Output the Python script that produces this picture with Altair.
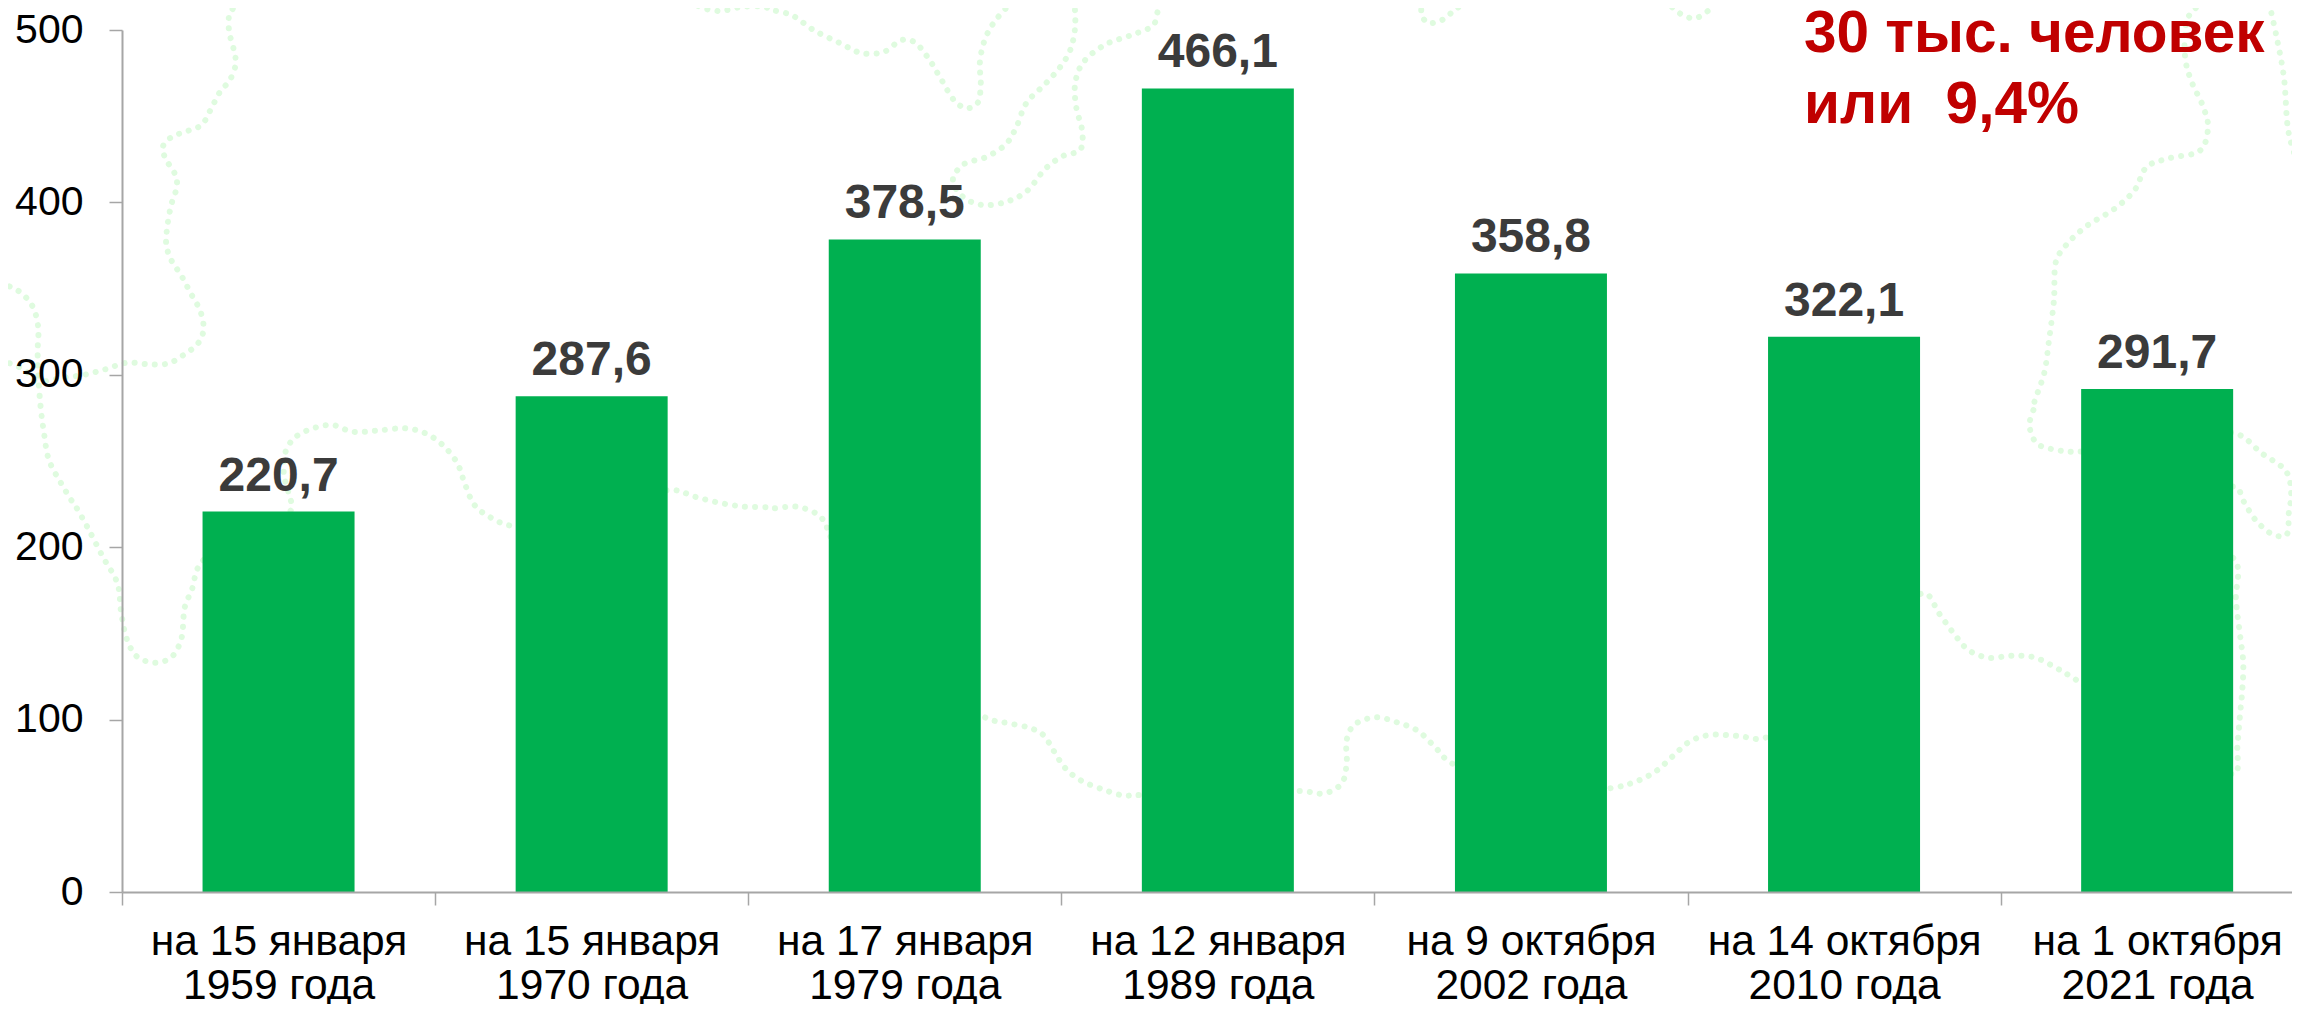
import altair as alt
import pandas as pd

categories = ["на 15 января|1959 года", "на 15 января|1970 года", "на 17 января|1979 года",
              "на 12 января|1989 года", "на 9 октября|2002 года", "на 14 октября|2010 года",
              "на 1 октября|2021 года"]
values = [220.7, 287.6, 378.5, 466.1, 358.8, 322.1, 291.7]
labels = ["220,7", "287,6", "378,5", "466,1", "358,8", "322,1", "291,7"]
y_ticks = [0, 100, 200, 300, 400, 500]
note_lines = ["30 тыс. человек", "или\u00a0\u00a09,4%"]

# Faint dotted map outline behind the bars
# (each piece is read in crop units, with that crop's left and top offset).
SX = 1568 / 767
outline_1 = [(0, 0, [(490, 5), (470, 40), (468, 90), (478, 150), (482, 190), (470, 240), (450, 275), (432, 325),
                     (412, 375), (385, 392), (350, 412), (333, 440), (338, 475), (357, 520), (362, 555), (350, 615),
                     (342, 680), (340, 735), (350, 780), (370, 825), (390, 880), (410, 935), (416, 990), (405, 1030),
                     (375, 1065), (345, 1090), (305, 1093), (260, 1088), (215, 1108), (170, 1125), (120, 1135), (78, 1150)])]
outline_2 = [(0, 0, [(0, 850), (35, 870), (65, 915), (78, 980), (77, 1050), (78, 1120), (83, 1220), (90, 1300), (100, 1380),
                     (125, 1450), (150, 1510)]),
             (0, 400, [(155, 320), (180, 385), (210, 470), (240, 550), (248, 640), (260, 720), (280, 770), (318, 788),
                       (350, 772), (370, 720), (378, 620), (392, 570), (410, 490), (500, 400), (595, 330), (590, 280),
                       (580, 220), (585, 150), (605, 110), (640, 85), (680, 75), (720, 95), (770, 92), (830, 85), (870, 100),
                       (905, 135), (935, 190), (950, 250), (970, 315), (1000, 350), (1050, 378), (1200, 330), (1375, 270),
                       (1420, 290), (1470, 308), (1520, 320), (1568, 322)]),
             (767, 400, [(10, 325), (60, 320), (100, 340), (120, 370), (125, 395), (300, 800), (450, 955), (495, 970),
                         (540, 985), (565, 1005), (585, 1050), (610, 1105), (640, 1140), (690, 1170), (730, 1187),
                         (755, 1185), (920, 1200), (1090, 1173), (1140, 1180), (1175, 1150), (1185, 1090), (1185, 1020),
                         (1200, 975), (1245, 952), (1290, 968), (1330, 992), (1365, 1040), (1400, 1090)]),
             (1533, 400, [(70, 1170), (165, 1163), (210, 1145), (250, 1115), (285, 1070), (320, 1025), (360, 1005),
                          (420, 1008), (475, 1013), (640, 800), (800, 580), (830, 640), (860, 700), (890, 750), (930, 773),
                          (980, 767), (1025, 772), (1065, 800), (1100, 830), (1280, 1000), (1435, 1120), (1440, 1040),
                          (1445, 950), (1450, 870), (1452, 790), (1445, 700), (1437, 600), (1435, 480), (1300, 400),
                          (1435, 260), (1455, 310), (1480, 365), (1515, 405), (1540, 405), (1545, 340), (1550, 280),
                          (1540, 215), (1490, 160), (1435, 100), (1280, 130), (1115, 155), (1070, 150), (1030, 130),
                          (1015, 75), (1027, 10)]),
             (1533, 0, [(1025, 1210), (1045, 1120), (1055, 1020), (1065, 900), (1070, 780), (1090, 735), (1130, 680),
                        (1190, 625), (1230, 570), (1255, 500), (1300, 475), (1365, 450), (1380, 380), (1370, 320),
                        (1345, 240), (1333, 170), (1340, 50), (1375, 5), (1420, -15)])]
outline_3 = [(0, 0, [(0, 1080), (20, 1090), (50, 1110), (75, 1150)])]
outline_4 = [(0, 0, [(1410, 0), (1430, 20), (1470, 33), (1520, 20), (1568, 22)]),
             (767, 0, [(0, 25), (50, 45), (95, 90), (150, 130), (195, 160), (240, 155), (275, 120), (300, 125), (330, 175),
                       (355, 235), (385, 305), (408, 325), (430, 310), (437, 250), (435, 190), (445, 120), (465, 65), (505, 0)])]
outline_5 = [(767, 0, [(628, 0), (630, 80), (620, 150), (600, 200), (570, 250), (530, 310), (510, 380), (490, 430), (450, 470),
                       (400, 495), (380, 540), (400, 590), (440, 615), (490, 605), (530, 575), (570, 505), (605, 468),
                       (640, 450), (645, 400), (632, 320), (630, 250), (645, 190), (690, 135), (745, 105), (790, 75),
                       (800, 30), (815, 0)])]
outline_6 = [(767, 0, [(1340, 0), (1338, 40), (1350, 68), (1380, 60), (1410, 25), (1440, 0)])]
outline_7 = [(1533, 0, [(270, 0), (300, 40), (330, 55), (360, 30), (378, 0)])]
outline_8 = [(1533, 0, [(1505, 10), (1520, 110), (1535, 230), (1545, 400), (1568, 510)])]
outlines = [outline_1, outline_2, outline_3, outline_4, outline_5, outline_6, outline_7, outline_8]

rows = []
for n, outline in enumerate(outlines):
    i = 0
    for xo, yo, pts in outline:
        for px, py in pts:
            rows.append({"path": n, "i": i, "px": xo + px / SX, "py": yo + py / 3})
            i += 1
outline_df = pd.DataFrame(rows)

df = pd.DataFrame({"category": categories, "value": values, "label": labels})

X0, Y0, YT = 122, 892, 30
STEP = 313.1
PLOT_H = Y0 - YT
AXIS = "#A6A6A6"
FONT = "Liberation Sans"

outline_layer = alt.Chart(outline_df).mark_line(
    stroke="#DFFBDF", strokeWidth=6, strokeDash=[0.1, 10], strokeCap="round",
    interpolate="catmull-rom", clip=False,
).encode(
    x=alt.X("px:Q", scale=alt.Scale(domain=[X0, X0 + 7 * STEP], range=[0, 7 * STEP]), axis=None),
    y=alt.Y("py:Q", scale=alt.Scale(domain=[Y0, YT]), axis=None),
    detail="path:N",
    order="i:Q",
)

x_enc = alt.X("category:N", sort=categories, title=None,
              scale=alt.Scale(range=[0, 7 * STEP], paddingInner=0, paddingOuter=0),
              axis=alt.Axis(labelExpr="datum.value ? split(datum.value, '|') : ''", labelAngle=0, labelFont=FONT,
                            labelFontSize=42.5, labelColor="#000000", labelLineHeight=44, labelPadding=15,
                            tickBand="extent", tickSize=13, tickColor=AXIS, domainColor=AXIS, tickWidth=1.5,
                            domainWidth=2, grid=False, labelOverlap=False, labelBaseline="top", labelLimit=400,
                            zindex=1))
y_enc = alt.Y("value:Q", title=None, scale=alt.Scale(domain=[0, 500], nice=False),
              axis=alt.Axis(values=y_ticks, labelFont=FONT, labelFontSize=41, labelColor="#000000", labelPadding=26,
                            tickSize=13, tickColor=AXIS, domainColor=AXIS, tickWidth=1.5, domainWidth=2, grid=False,
                            labelOverlap=False, zindex=1))

bars = alt.Chart(df).mark_bar(color="#00B050", width=152).encode(x=x_enc, y=y_enc)
bar_labels = alt.Chart(df).mark_text(font=FONT, fontSize=48, fontWeight="bold", color="#3B3B3B",
                                     baseline="alphabetic", dy=-21).encode(
    x=alt.X("category:N", sort=categories), y="value:Q", text="label:N")
note = alt.Chart(pd.DataFrame({"k": [0]})).mark_text(
    text=note_lines, font=FONT, fontSize=58.5, fontWeight="bold", color="#C00000", align="left",
    baseline="alphabetic", lineHeight=71,
).encode(x=alt.value(1804 - X0), y=alt.value(52 - YT))

main = alt.layer(bars, bar_labels, note)
chart = alt.layer(outline_layer, main).resolve_scale(x="independent", y="independent").properties(
    width=2292 - X0, height=PLOT_H,
    autosize=alt.AutoSizeParams(type="none"),
    padding={"left": X0 - 8, "top": YT - 8, "right": 0, "bottom": 1012 - Y0 - 8},
    background="white",
).configure_view(stroke=None)

chart.save("out.html", embed_options={"renderer": "svg", "actions": False})
